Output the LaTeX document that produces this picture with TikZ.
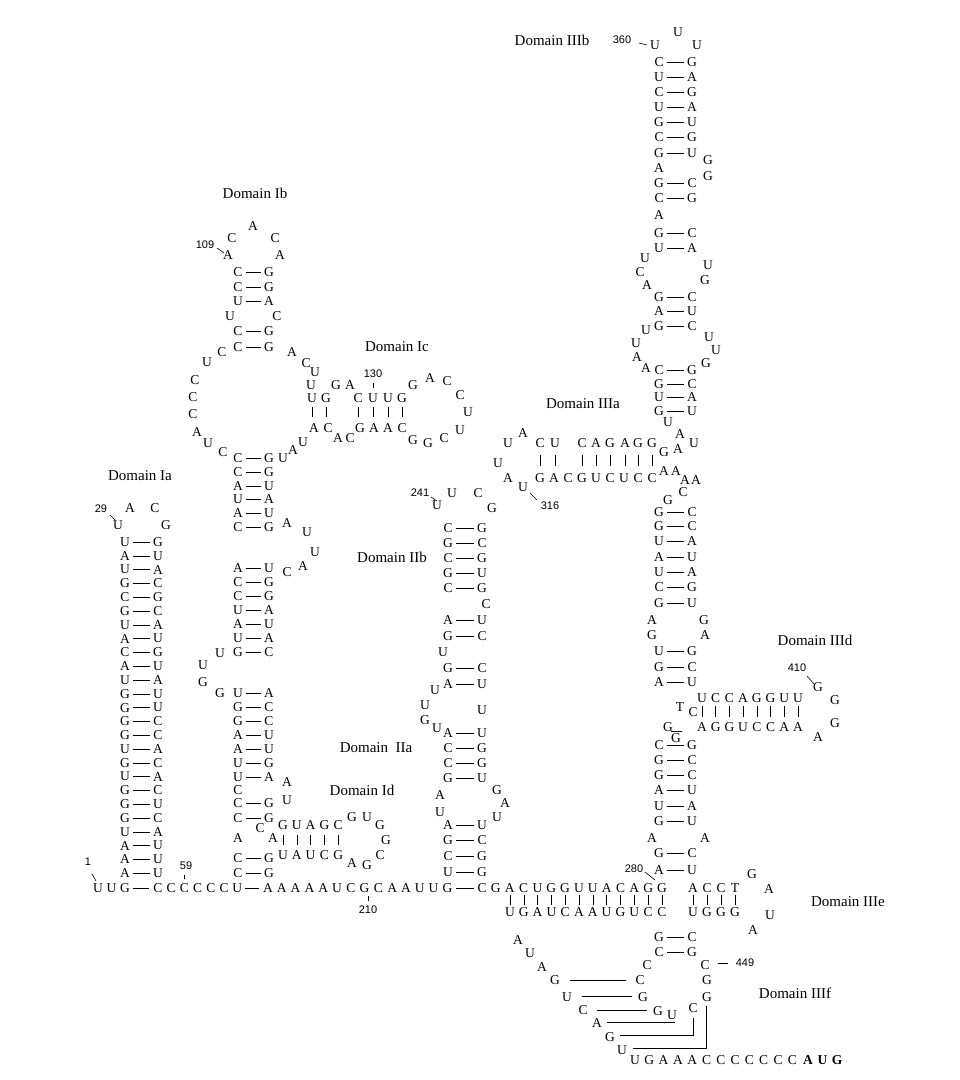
\documentclass[tikz,border=0pt]{standalone}
\usepackage{fontspec}
\setmainfont{Liberation Serif}
\newfontfamily\numfont{Liberation Sans}
\newcommand\bpair[5]{% x, y, left, right, width
  \node[nt] at (#1,#2) {#3};
  \node[nt] at (#1+#5,#2) {#4};
  \draw[bond] (#1+8,#2) -- (#1+#5-8,#2);}
\newcommand\nts[1]{\foreach \px/\py/\nl in {#1} \node[nt] at (\px,\py) {\nl};}
\tikzset{
  nt/.style={inner sep=0pt, font=\fontsize{13.5}{13.5}\selectfont},
  num/.style={inner sep=0pt, font=\numfont\fontsize{11}{11}\selectfont},
  dom/.style={inner sep=0pt, font=\fontsize{15}{15}\selectfont},
  bond/.style={line width=0.6pt},
  tick/.style={line width=0.6pt},
}
\begin{document}
\begin{tikzpicture}[x=1pt,y=-1pt]
\useasboundingbox (0,0) rectangle (960,1080);
% domain labels
\node[dom] at (255,193) {Domain Ib};
\node[dom] at (397,347) {Domain Ic};
\node[dom] at (140,476) {Domain Ia};
\node[dom] at (392,557) {Domain IIb};
\node[dom] at (376,748) {Domain \ IIa};
\node[dom] at (362,790) {Domain Id};
\node[dom] at (552,40) {Domain IIIb};
\node[dom] at (583,404) {Domain IIIa};
\node[dom] at (815,640) {Domain IIId};
\node[dom] at (848,902) {Domain IIIe};
\node[dom] at (795,993) {Domain IIIf};
% position numbers
\node[num] (n1) at (88,862) {1};      \draw[tick] (92,874) -- (96,881);
\node[num] (n29) at (101,509) {29};   \draw[tick] (110,515) -- (115,520);
\node[num] (n59) at (186,866) {59};   \draw[tick] (184,875) -- (184,879);
\node[num] (n109) at (205,245) {109}; \draw[tick] (217,248) -- (224,253);
\node[num] (n130) at (373,374) {130}; \draw[tick] (373,383) -- (373,388);
\node[num] (n210) at (368,910) {210}; \draw[tick] (368,896) -- (368,901);
\node[num] (n241) at (420,493) {241}; \draw[tick] (431,497) -- (437,501);
\node[num] (n316) at (550,506) {316}; \draw[tick] (530,493) -- (537,500);
\node[num] (n360) at (622,40) {360};  \draw[tick] (639,43) -- (647,45);
\node[num] (n280) at (634,869) {280}; \draw[tick] (645,872) -- (655,880);
\node[num] (n410) at (797,668) {410}; \draw[tick] (807,676) -- (814,684);
\node[num] (n449) at (745,963) {449}; \draw[line width=1pt] (718,963) -- (728,963);
% main strand
\foreach \nl [count=\i from 0] in {U,U,G} \node[nt] at (98+13.5*\i,888) {\nl};
\draw[bond] (133,888) -- (149,888);
\foreach \nl [count=\i from 0] in {C,C,C,C,C,C,U} \node[nt] at (158+13.2*\i,888) {\nl};
\draw[bond] (245,888) -- (259,888);
\foreach \nl [count=\i from 0] in {A,A,A,A,A,U,C,G,C,A,A,U,U,G} \node[nt] at (268+13.8*\i,888) {\nl};
\draw[bond] (456,888) -- (474,888);
\foreach \nl [count=\i from 0] in {C,G,A,C,U,G,G,U,U,A,C,A,G,G} \node[nt] at (482+13.85*\i,888) {\nl};
\foreach \nl [count=\i from 0] in {A,C,C,T} \node[nt] at (693+14*\i,888) {\nl};
\foreach \nl [count=\i from 0] in {U,G,A,U,C,A,A,U,G,U,C,C} {
  \node[nt] at (510+13.8*\i,912) {\nl}; \draw[bond] (510+13.8*\i,895) -- (510+13.8*\i,905);}
\foreach \nl [count=\i from 0] in {U,G,G,G} {
  \node[nt] at (693+14*\i,912) {\nl}; \draw[bond] (693+14*\i,895) -- (693+14*\i,905);}
% Domain Ia
\foreach \nl/\nr [count=\i from 0] in {U/G,A/U,U/A,G/C,C/G,G/C,U/A,A/U,C/G,A/U,U/A,G/U,G/U,G/C,G/C,U/A,G/C,U/A,G/C,G/U,G/C,U/A,A/U,A/U,A/U}
  {\bpair{125}{542+13.8*\i}{\nl}{\nr}{33}}
% Domains Ib and Id stem
\foreach \nl/\nr/\py in {C/G/272,C/G/287,U/A/301,C/G/331,C/G/347,C/G/458,C/G/472,A/U/486,U/A/499,A/U/513,C/G/527}
  {\bpair{238}{\py}{\nl}{\nr}{31}}
\foreach \nl/\nr/\py in {A/U/568,C/G/582,C/G/596,U/A/610,A/U/624,U/A/638,G/C/652,U/A/693,G/C/707,G/C/721,A/U/735,A/U/749,U/G/763,U/A/777,C/G/803,C/G/818,C/G/858,C/G/873}
  {\bpair{238}{\py}{\nl}{\nr}{31}}
% Domain IIa/IIb stem
\foreach \nl/\nr/\py in {C/G/528,G/C/543,C/G/558,G/U/573,C/G/588,A/U/620,G/C/636,G/C/668,A/U/684,A/U/733,C/G/748,C/G/763,G/U/778,A/U/825,G/C/840,C/G/856,U/G/872}
  {\bpair{448}{\py}{\nl}{\nr}{34}}
% Domains IIIb and IIIc stem
\foreach \nl/\nr/\py in {C/G/62,U/A/77,C/G/92,U/A/107,G/U/122,C/G/137,G/U/153,G/C/183,C/G/198,G/C/233,U/A/248,G/C/297,A/U/311,G/C/326,C/G/370,G/C/384,U/A/397,G/U/411}
  {\bpair{659}{\py}{\nl}{\nr}{33}}
\foreach \nl/\nr/\py in {G/C/512,G/C/526,U/A/541,A/U/557,U/A/572,C/G/587,G/U/603,U/G/651,G/C/667,A/U/682,C/G/745,G/C/760,G/C/775,A/U/790,U/A/806,G/U/821,G/C/853,A/U/870,G/C/937,C/G/952}
  {\bpair{659}{\py}{\nl}{\nr}{33}}
% unpaired nucleotides
\nts{118/525/U,130/508/A,155/508/C,166/525/G}
\nts{220/653/U,203/665/U,203/682/G,220/693/G,238/790/C,287/782/A,287/800/U,238/838/A,260/828/C,273/838/A}
\nts{352/817/G,367/817/U,380/825/G,386/840/G,380/855/C,367/865/G,352/863/A}
\nts{287/523/A,307/532/U,315/552/U,303/566/A,287/572/C}
\nts{253/226/A,232/238/C,275/238/C,228/255/A,280/255/A,230/316/U,277/316/C}
\nts{222/352/C,207/362/U,195/380/C,193/397/C,193/414/C,197/432/A,208/443/U,223/452/C}
\nts{292/352/A,306/363/C,315/372/U,311/385/U,336/385/G,350/385/A}
\nts{413/385/G,430/378/A,447/381/C,460/395/C,468/412/U,460/430/U,444/438/C,428/443/G,413/440/G}
\nts{314/428/A,328/428/C,338/438/A,350/438/C,360/428/G,374/428/A,388/428/A,402/428/C}
\nts{283/458/U,293/450/A,303/442/U}
\nts{437/505/U,452/493/U,478/493/C,492/508/G,486/604/C,443/652/U,435/690/U,425/705/U,425/720/G,437/728/U,482/710/U}
\nts{440/795/A,440/812/U,497/790/G,505/803/A,497/817/U}
\nts{508/443/U,523/433/A,498/463/U,508/478/A,523/487/U}
\nts{664/452/G,678/449/A,694/443/U,664/471/A,676/471/A,685/480/A,696/480/A,683/492/C,668/500/G}
\nts{655/45/U,678/32/U,697/45/U,708/160/G,659/168/A,708/176/G,659/215/A,645/258/U,640/272/C,647/285/A}
\nts{708/265/U,705/280/G,646/330/U,636/343/U,637/357/A,646/368/A,709/337/U,716/350/U,706/363/G,668/422/U,680/434/A}
\nts{652/620/A,704/620/G,652/635/G,705/635/A,680/707/T,693/712/C,668/727/G,676/738/G}
\nts{818/687/G,835/700/G,835/723/G,818/737/A,652/838/A,705/838/A}
\nts{752/874/G,769/889/A,770/915/U,753/930/A}
\nts{647/965/C,640/980/C,643/997/G,658/1011/G,672/1015/U,693/1008/C,705/965/C,707/980/G,707/997/G}
\nts{518/940/A,530/953/U,542/967/A,555/980/G,567/997/U,583/1010/C,597/1023/A,610/1037/G,622/1050/U}
% short helices drawn row by row
\foreach \nl [count=\i from 0] in {G,U,A,G,C} \node[nt] at (283+13.8*\i,825) {\nl};
\foreach \nl [count=\i from 0] in {U,A,U,C,G} {\node[nt] at (283+13.8*\i,855) {\nl}; \draw[bond] (283+13.8*\i,835) -- (283+13.8*\i,845);}
\foreach \nl/\px in {U/312,G/326,C/358,U/373,U/388,G/402} {\node[nt] at (\px,398) {\nl}; \draw[bond] (\px,407) -- (\px,417);}
\foreach \nl/\px in {C/540,U/555,C/582,A/596,G/610,A/625,G/638,G/652} {\node[nt] at (\px,443) {\nl}; \draw[bond] (\px,455) -- (\px,466);}
\foreach \nl [count=\i from 0] in {G,A,C,G,U,C,U,C,C} \node[nt] at (540+14*\i,478) {\nl};
\foreach \nl [count=\i from 0] in {U,C,C,A,G,G,U,U} {\node[nt] at (702+13.7*\i,698) {\nl}; \draw[bond] (702+13.7*\i,706) -- (702+13.7*\i,717);}
\foreach \nl [count=\i from 0] in {A,G,G,U,C,C,A,A} \node[nt] at (702+13.7*\i,727) {\nl};
\draw[bond] (671,731) -- (682,731);
% pseudoknot lines of Domain IIIf
\draw[bond] (570,980) -- (626,980);
\draw[bond] (582,996) -- (632,996);
\draw[bond] (597,1010) -- (647,1010);
\draw[bond] (607,1022) -- (675,1022);
\draw[bond] (620,1035) -- (693,1035) -- (693,1018);
\draw[bond] (633,1048) -- (706,1048) -- (706,1006);
\foreach \nl [count=\i from 0] in {U,G,A,A,A,C,C,C,C,C,C,C} \node[nt] at (635+14.3*\i,1060) {\nl};
\foreach \nl [count=\i from 0] in {A,U,G} \node[nt,font=\fontsize{13.5}{13.5}\selectfont\bfseries] at (808+14.5*\i,1060) {\nl};
\end{tikzpicture}
\end{document}
